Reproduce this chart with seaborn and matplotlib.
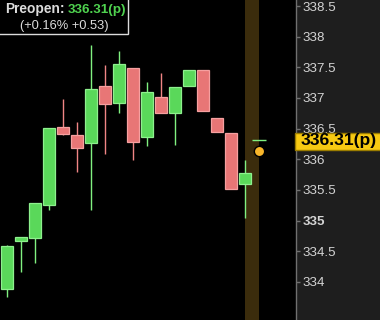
import matplotlib
matplotlib.use("Agg")
import matplotlib.pyplot as plt
import seaborn as sns
import numpy as np
import pandas as pd
from matplotlib.patches import Rectangle

# ---- data ----
opens  = [333.89, 334.67, 334.72, 335.26, 336.53, 336.40, 336.27, 337.20, 336.92,
          337.49, 336.37, 337.02, 336.75, 337.20, 337.46, 336.68, 336.43, 335.60]
closes = [334.59, 334.73, 335.29, 336.51, 336.42, 336.19, 337.15, 336.91, 337.56,
          336.29, 337.10, 336.76, 337.18, 337.46, 336.78, 336.44, 335.52, 335.78]
highs  = [334.61, 334.73, 335.29, 336.51, 336.99, 336.61, 337.87, 337.54, 337.77,
          337.49, 337.26, 337.41, 337.18, 337.46, 337.46, 336.68, 336.43, 335.99]
lows   = [333.76, 334.17, 334.31, 335.18, 336.39, 335.80, 335.18, 336.08, 336.75,
          335.995, 336.22, 336.76, 336.23, 337.20, 336.78, 336.44, 335.52, 335.05]
preopen_price = 336.31
dot_price = 336.13
dot_index = 18
band_range = [17.0, 18.0]
ytick_values = [334, 334.5, 335, 335.5, 336, 336.5, 337, 337.5, 338, 338.5]
ytick_labels = ["334", "334.5", "335", "335.5", "336", "336.5", "337", "337.5", "338", "338.5"]
title_label = "Preopen:"
title_value = "336.31(p)"
change_text = "(+0.16% +0.53)"
price_tag = "336.31(p)"

df = pd.DataFrame({"open": opens, "close": closes, "high": highs, "low": lows})
df["idx"] = np.arange(len(df))
df["up"] = df["close"] >= df["open"]

sns.set_style("dark")
plt.rcParams["font.family"] = ["Liberation Sans", "DejaVu Sans"]

W, H = 380, 320
fig = plt.figure(figsize=(W / 100, H / 100), dpi=100, facecolor="#1e1e1e")
ax = fig.add_axes([0, 0, 296 / W, 1])
ax.set_facecolor("black")

GREEN_F, GREEN_E = "#5ad85a", "#8ef08e"
RED_F, RED_E = "#e87676", "#f6a0a0"

# band
ax.axvspan(band_range[0], band_range[1], color="#3b2c0c", zorder=0, lw=0)

# wicks
for _, r in df.iterrows():
    c = "#80f080" if r["up"] else "#f08585"
    ax.vlines(r["idx"], r["low"], r["high"], color=c, lw=1.0, zorder=2)

# bodies
bottoms = np.minimum(df["open"], df["close"])
heights = np.maximum(np.abs(df["close"] - df["open"]), 0.02)
ax.bar(df["idx"], heights, bottom=bottoms, width=0.86,
       color=[GREEN_F if u else RED_F for u in df["up"]],
       edgecolor=[GREEN_E if u else RED_E for u in df["up"]],
       linewidth=0.9, zorder=3)

# preopen marker
ax.hlines(preopen_price, 17.55, 18.5, color="#80f080", lw=1.0, zorder=4)
sns.scatterplot(x=[dot_index], y=[dot_price], ax=ax, s=55, color="#f8b62a",
                edgecolor="black", linewidth=1.0, zorder=5, legend=False)

ax.set_xlim(-0.537, 20.67)
ax.set_ylim(333.38, 338.598)
ax.set_xticks([])
for s in ["top", "left", "bottom"]:
    ax.spines[s].set_visible(False)
ax.spines["right"].set_visible(True)
ax.spines["right"].set_color("#707070")
ax.spines["right"].set_linewidth(1.0)
ax.yaxis.tick_right()
ax.set_yticks(ytick_values)
ax.set_yticklabels(ytick_labels)
ax.tick_params(axis="y", colors="#707070", length=3, width=1, pad=1.5,
               labelcolor="#d4d4d4", labelsize=9.6)
for lab in ax.get_yticklabels():
    if lab.get_text() == "335":
        lab.set_fontweight("bold")
ax.grid(False)
ax.set_xlabel("")
ax.set_ylabel("")

# top-left info box
def fx(px):
    return px / W

def fy(py):
    return 1 - py / H

fig.add_artist(Rectangle((fx(-2), fy(33.5)), fx(130), 33.5 / H + 0.01,
                         transform=fig.transFigure, facecolor="black",
                         edgecolor="#dcdcdc", lw=1.0, zorder=5))
fig.text(fx(5), fy(12.7), title_label, color="#dcdcdc", fontsize=9.9,
         fontweight="bold", va="baseline", ha="left", zorder=6)
fig.text(fx(68), fy(12.7), title_value, color="#4fd24f", fontsize=9.7,
         fontweight="bold", va="baseline", ha="left", zorder=6)
fig.text(fx(64.5), fy(28.5), change_text, color="#dcdcdc", fontsize=9.3,
         va="baseline", ha="center", zorder=6)

# price tag on axis
fig.add_artist(Rectangle((fx(295), fy(149.5)), fx(86), 16.8 / H,
                         transform=fig.transFigure, facecolor="#f7c912",
                         edgecolor="#9a7c00", lw=1.0, zorder=5))
fig.text(fx(339), fy(141), price_tag, color="black", fontsize=12.6,
         fontweight="bold", va="center", ha="center", zorder=6)

fig.savefig("out.png", dpi=100, facecolor=fig.get_facecolor())
